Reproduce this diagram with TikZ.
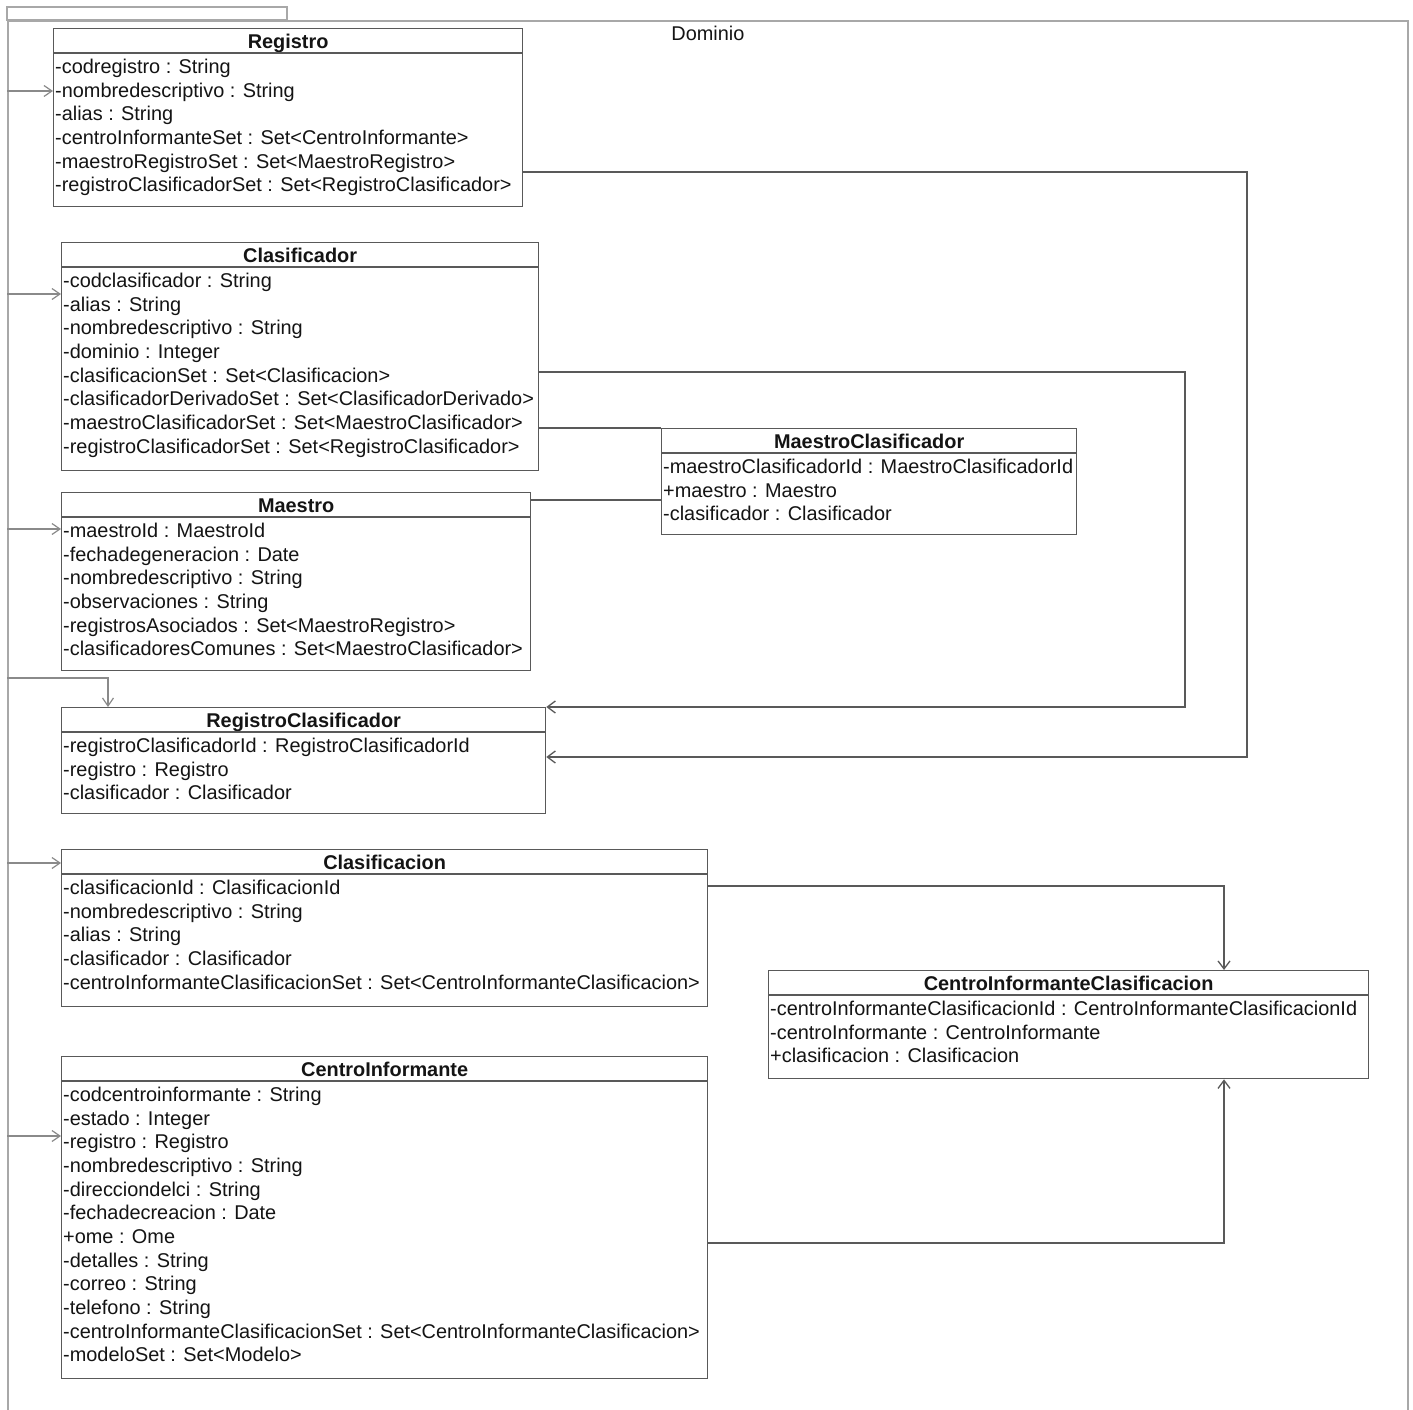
\documentclass[tikz,border=0pt]{standalone}
\usepackage{fontspec}
\setmainfont{Liberation Sans}
\usepackage{tikz}
\usetikzlibrary{arrows.meta,calc}

\definecolor{pkggray}{HTML}{A8A8A8}
\definecolor{boxgray}{HTML}{595959}
\definecolor{usegray}{HTML}{8A8A8A}
\definecolor{txtgray}{HTML}{141414}

\begin{document}
\begin{tikzpicture}[x=1pt,y=-1pt]
        \tikzset{
          ClassStyle/.style = {draw=boxgray, line width=1.3pt, anchor=north west, inner sep=0pt, fill=white},
          TitleStyle/.style = {anchor=base, inner sep=0pt, text=txtgray, font=\fontsize{19.9}{23.6}\selectfont\bfseries},
          AttrStyle/.style = {anchor=north west, inner sep=0pt, align=left, text=txtgray,
                              font=\fontsize{19.9}{23.65}\selectfont, execute at begin node=\strut},
          SepStyle/.style = {draw=boxgray, line width=1.3pt},
          PkgStyle/.style = {draw=pkggray, line width=1.8pt},
          EdgeStyle/.style = {draw=boxgray, line width=1.3pt},
          AssocStyle/.style = {EdgeStyle, -{Straight Barb[length=8pt,width=12pt]}},
          UseStyle/.style = {draw=usegray, line width=1.2pt, -{Straight Barb[length=8pt,width=11pt]}}
        }
        \useasboundingbox (0,0) rectangle (1413,1410);

        \draw[PkgStyle] (7,7) rectangle (287,20);
        \node[PkgStyle, anchor=north west, inner sep=0pt, minimum width=1400, minimum height=1440] (dominio) at (7,20) {};
        \node[anchor=base, inner sep=0pt, text=txtgray, font=\fontsize{19.9}{23.6}\selectfont] (dominio-t) at ($(dominio.north)+(0,21)$) {Dominio};

        \node[ClassStyle, minimum width=469, minimum height=178] (registro) at (53,28) {};
        \node[TitleStyle] (registro-t) at ($(registro.north)+(0,20.5)$) {Registro};
        \draw[SepStyle] ($(registro.north west)+(0,25)$) -- ($(registro.north east)+(0,25)$);
        \node[AttrStyle] (registro-a) at ($(registro.north west)+(2,31)$)
          {-codregistro : String\\-nombredescriptivo : String\\-alias : String\\
           -centroInformanteSet : Set<CentroInformante>\\-maestroRegistroSet : Set<MaestroRegistro>\\
           -registroClasificadorSet : Set<RegistroClasificador>};

        \node[ClassStyle, minimum width=477, minimum height=228] (clasificador) at (61,242) {};
        \node[TitleStyle] (clasificador-t) at ($(clasificador.north)+(0,20.5)$) {Clasificador};
        \draw[SepStyle] ($(clasificador.north west)+(0,25)$) -- ($(clasificador.north east)+(0,25)$);
        \node[AttrStyle] (clasificador-a) at ($(clasificador.north west)+(2,31)$)
          {-codclasificador : String\\-alias : String\\-nombredescriptivo : String\\-dominio : Integer\\
           -clasificacionSet : Set<Clasificacion>\\-clasificadorDerivadoSet : Set<ClasificadorDerivado>\\
           -maestroClasificadorSet : Set<MaestroClasificador>\\-registroClasificadorSet : Set<RegistroClasificador>};

        \node[ClassStyle, minimum width=469, minimum height=178] (maestro) at (61,492) {};
        \node[TitleStyle] (maestro-t) at ($(maestro.north)+(0,20.5)$) {Maestro};
        \draw[SepStyle] ($(maestro.north west)+(0,25)$) -- ($(maestro.north east)+(0,25)$);
        \node[AttrStyle] (maestro-a) at ($(maestro.north west)+(2,31)$)
          {-maestroId : MaestroId\\-fechadegeneracion : Date\\-nombredescriptivo : String\\
           -observaciones : String\\-registrosAsociados : Set<MaestroRegistro>\\
           -clasificadoresComunes : Set<MaestroClasificador>};

        \node[ClassStyle, minimum width=415, minimum height=106] (maestroclas) at (661,428) {};
        \node[TitleStyle] (maestroclas-t) at ($(maestroclas.north)+(0,20.5)$) {MaestroClasificador};
        \draw[SepStyle] ($(maestroclas.north west)+(0,25)$) -- ($(maestroclas.north east)+(0,25)$);
        \node[AttrStyle] (maestroclas-a) at ($(maestroclas.north west)+(2,31)$)
          {-maestroClasificadorId : MaestroClasificadorId\\+maestro : Maestro\\-clasificador : Clasificador};

        \node[ClassStyle, minimum width=484, minimum height=106] (regclas) at (61,707) {};
        \node[TitleStyle] (regclas-t) at ($(regclas.north)+(0,20.5)$) {RegistroClasificador};
        \draw[SepStyle] ($(regclas.north west)+(0,25)$) -- ($(regclas.north east)+(0,25)$);
        \node[AttrStyle] (regclas-a) at ($(regclas.north west)+(2,31)$)
          {-registroClasificadorId : RegistroClasificadorId\\-registro : Registro\\-clasificador : Clasificador};

        \node[ClassStyle, minimum width=646, minimum height=157] (clasificacion) at (61,849) {};
        \node[TitleStyle] (clasificacion-t) at ($(clasificacion.north)+(0,20.5)$) {Clasificacion};
        \draw[SepStyle] ($(clasificacion.north west)+(0,25)$) -- ($(clasificacion.north east)+(0,25)$);
        \node[AttrStyle] (clasificacion-a) at ($(clasificacion.north west)+(2,31)$)
          {-clasificacionId : ClasificacionId\\-nombredescriptivo : String\\-alias : String\\
           -clasificador : Clasificador\\-centroInformanteClasificacionSet : Set<CentroInformanteClasificacion>};

        \node[ClassStyle, minimum width=600, minimum height=108] (cic) at (768,970) {};
        \node[TitleStyle] (cic-t) at ($(cic.north)+(0,20.5)$) {CentroInformanteClasificacion};
        \draw[SepStyle] ($(cic.north west)+(0,25)$) -- ($(cic.north east)+(0,25)$);
        \node[AttrStyle] (cic-a) at ($(cic.north west)+(2,31)$)
          {-centroInformanteClasificacionId : CentroInformanteClasificacionId\\
           -centroInformante : CentroInformante\\+clasificacion : Clasificacion};

        \node[ClassStyle, minimum width=646, minimum height=322] (centroinf) at (61,1056) {};
        \node[TitleStyle] (centroinf-t) at ($(centroinf.north)+(0,20.5)$) {CentroInformante};
        \draw[SepStyle] ($(centroinf.north west)+(0,25)$) -- ($(centroinf.north east)+(0,25)$);
        \node[AttrStyle] (centroinf-a) at ($(centroinf.north west)+(2,31)$)
          {-codcentroinformante : String\\-estado : Integer\\-registro : Registro\\
           -nombredescriptivo : String\\-direcciondelci : String\\-fechadecreacion : Date\\
           +ome : Ome\\-detalles : String\\-correo : String\\-telefono : String\\
           -centroInformanteClasificacionSet : Set<CentroInformanteClasificacion>\\-modeloSet : Set<Modelo>};

        \draw[UseStyle] (dominio.west |- 0,91) -- (registro.west |- 0,91);
        \draw[UseStyle] (dominio.west |- 0,294) -- (clasificador.west |- 0,294);
        \draw[UseStyle] (dominio.west |- 0,529) -- (maestro.west |- 0,529);
        \draw[UseStyle] (dominio.west |- 0,678) -| (regclas.north west -| 108,0);
        \draw[UseStyle] (dominio.west |- 0,863) -- (clasificacion.west |- 0,863);
        \draw[UseStyle] (dominio.west |- 0,1136) -- (centroinf.west |- 0,1136);

        \draw[AssocStyle] (registro.east |- 0,172) -| (1247,757) -- (regclas.east |- 0,757);
        \draw[AssocStyle] (clasificador.east |- 0,372) -| (1185,707) -- (regclas.north east);
        \draw[EdgeStyle] (clasificador.east |- maestroclas.north west) -- (maestroclas.north west);
        \draw[EdgeStyle] (maestro.east |- 0,500) -- (maestroclas.west |- 0,500);
        \draw[AssocStyle] (clasificacion.east |- 0,886) -| (cic.north -| 1224,0);
        \draw[AssocStyle] (centroinf.east |- 0,1243) -| (cic.south -| 1224,0);
\end{tikzpicture}
\end{document}
